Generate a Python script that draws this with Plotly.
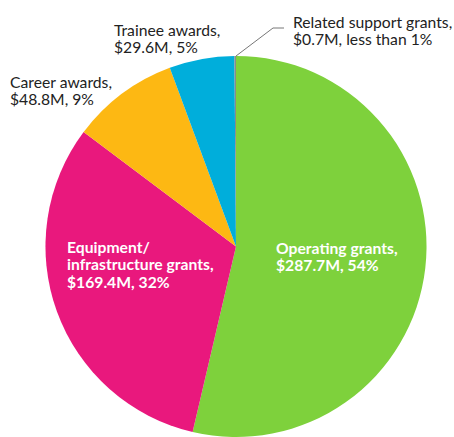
import plotly.graph_objects as go

# Grant categories and funding (millions of dollars)
categories = [
    "Operating grants",
    "Equipment/infrastructure grants",
    "Career awards",
    "Trainee awards",
    "Related support grants",
]
amounts = [287.7, 169.4, 48.8, 29.6, 0.7]
share_labels = ["54%", "32%", "9%", "5%", "less than 1%"]
colors = ["#7ED13C", "#E9187D", "#FDB813", "#00AEDB", "#8A8A8A"]

W, H = 454, 437
FONT = "Lato, 'Open Sans', sans-serif"
FONT_SIZE = 15.7
LEADING = 17.5

fig = go.Figure(
    go.Pie(
        labels=categories,
        values=amounts,
        sort=False,
        direction="clockwise",
        rotation=0,
        textinfo="none",
        hoverinfo="label+value+percent",
        marker=dict(colors=colors, line=dict(width=0)),
        domain=dict(x=[(236 - 191) / W, (236 + 191) / W], y=[0, 0.872]),
        showlegend=False,
    )
)


def px(x, y):
    return x / W, 1 - y / H


def money(v):
    return f"${v:.1f}M"


labels = [
    # (lines, left x, first baseline y, colour, bold)
    (["Operating grants,", f"{money(amounts[0])}, {share_labels[0]}"], 275, 253, "white", True),
    (["Equipment/", "infrastructure grants,", f"{money(amounts[1])}, {share_labels[1]}"], 66, 252, "white", True),
    (["Career awards,", f"{money(amounts[2])}, {share_labels[2]}"], 9, 87, "#222222", False),
    (["Trainee awards,", f"{money(amounts[3])}, {share_labels[3]}"], 113, 35, "#222222", False),
    (["Related support grants,", f"{money(amounts[4])}, {share_labels[4]}"], 292, 27, "#222222", False),
]

annotations = []
for lines, x, y0, col, bold in labels:
    for i, line in enumerate(lines):
        baseline = y0 + i * LEADING
        ax, ay = px(x, baseline - 0.33 * FONT_SIZE)
        annotations.append(
            dict(
                text=f"<b>{line}</b>" if bold else line,
                x=ax, y=ay, xref="paper", yref="paper",
                xanchor="left", yanchor="middle", align="left",
                showarrow=False, borderpad=0,
                font=dict(family=FONT, size=FONT_SIZE, color=col),
            )
        )

# Leader line for the thin "Related support grants" slice
lx0, ly0 = px(236, 56)
lx1, ly1 = px(273, 28)
lx2, ly2 = px(284, 28)
shapes = [
    dict(type="path", xref="paper", yref="paper",
         path=f"M {lx0},{ly0} L {lx1},{ly1} L {lx2},{ly2}",
         line=dict(color="#777777", width=1)),
]

fig.update_layout(
    width=W, height=H,
    margin=dict(l=0, r=0, t=0, b=0),
    paper_bgcolor="white",
    plot_bgcolor="white",
    annotations=annotations,
    shapes=shapes,
)

fig.write_html("out.html")
